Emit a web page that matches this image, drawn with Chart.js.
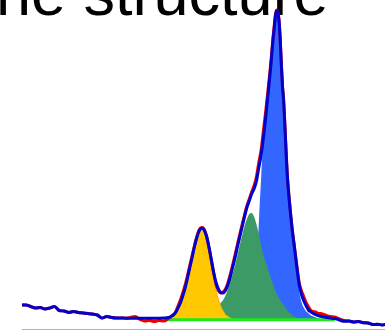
<!DOCTYPE html>
<html>
<head>
<meta charset="utf-8">
<script src="https://cdn.jsdelivr.net/npm/chart.js@4/dist/chart.umd.min.js"></script>
<style>
  html, body { margin: 0; padding: 0; background: #fff; }
  canvas { display: block; }
</style>
</head>
<body>
<canvas id="grafico" width="385" height="330"></canvas>
<script>
const titleText = 'ne structure';
const xTicks = [1, 2, 3, 4, 5, 6, 7];
const baseline = 90;

const energy = [-0.3, -0.2, -0.1, 0, 0.1, 0.2, 0.3, 0.4, 0.5, 0.6, 0.7, 0.8, 0.9, 1.0, 1.1, 1.2, 1.3, 1.4, 1.5, 1.6,
  1.7, 1.8, 1.9, 2.0, 2.1, 2.2, 2.3, 2.4, 2.5, 2.6, 2.7, 2.8,
  2.85, 2.9, 2.95, 3.0, 3.05, 3.1, 3.15, 3.2, 3.25, 3.3, 3.35, 3.4, 3.45, 3.5, 3.55, 3.6, 3.65, 3.7, 3.75, 3.8,
  3.85, 3.9, 3.95, 4.0, 4.05, 4.1, 4.15, 4.2, 4.25, 4.3, 4.35, 4.4, 4.45, 4.5, 4.55, 4.6, 4.65, 4.7, 4.75, 4.8,
  4.85, 4.9, 4.95, 4.975, 5.0, 5.025, 5.05, 5.075, 5.1, 5.125, 5.15, 5.175, 5.2, 5.225, 5.25,
  5.3, 5.35, 5.4, 5.45, 5.5, 5.55, 5.6, 5.65, 5.7, 5.75, 5.8, 5.85, 5.9, 5.95, 6.0,
  6.1, 6.2, 6.3, 6.4, 6.5, 6.6, 6.7, 6.8, 6.9, 7.0, 7.1, 7.2, 7.3, 7.4];

const fit = [240, 240, 225, 210, 215, 200, 210, 225, 185, 180, 165, 175, 165, 160, 155, 150, 140, 110, 125, 115,
  110, 110, 108, 107, 107, 107, 107, 107, 107, 108, 110, 115,
  125, 140, 165, 210, 260, 330, 410, 510, 615, 720, 830, 920, 985, 1010, 990, 930, 825, 700, 570, 465,
  400, 365, 360, 385, 440, 520, 615, 710, 820, 920, 1020, 1120, 1215, 1280, 1350, 1400, 1475, 1610, 1740, 1920,
  2130, 2365, 2610, 2750, 2890, 3000, 3120, 3185, 3170, 3090, 2910, 2650, 2420, 2270, 2030,
  1540, 1250, 1010, 820, 625, 445, 345, 280, 230, 188, 170, 155, 143, 134, 127,
  117, 110, 105, 90, 77, 80, 70, 75, 63, 60, 45, 47, 40, 50];

const measured = [240, 240, 225, 210, 215, 200, 210, 225, 185, 180, 165, 175, 165, 160, 155, 150, 140, 110, 125, 115,
  110, 110, 108, 115, 125, 95, 80, 85, 75, 85, 80, 105,
  120, 140, 170, 230, 290, 360, 440, 535, 640, 740, 840, 930, 995, 1015, 1000, 930, 820, 690, 560, 450,
  385, 360, 370, 400, 460, 545, 640, 740, 845, 945, 1045, 1140, 1230, 1300, 1370, 1430, 1520, 1660, 1790, 1990,
  2190, 2410, 2640, 2770, 2910, 3030, 3140, 3190, 3175, 3100, 2925, 2670, 2440, 2290, 2050,
  1560, 1260, 1020, 830, 640, 470, 380, 320, 260, 220, 185, 175, 170, 155, 155,
  140, 125, 120, 100, 85, 80, 70, 75, 63, 60, 45, 47, 40, 50];

const baselineX = [2.77, 6.3];
const baselineY = [92, 92];

const peak1X = [2.8, 2.85, 2.9, 2.95, 3.0, 3.05, 3.1, 3.15, 3.2, 3.25, 3.3, 3.35, 3.4, 3.45, 3.5, 3.55,
  3.6, 3.65, 3.7, 3.75, 3.8, 3.85, 3.9, 3.95, 4.0, 4.05, 4.1, 4.15, 4.2, 4.25, 4.3];
const peak1Y = [90, 95, 110, 140, 190, 245, 315, 395, 495, 600, 705, 815, 905, 970, 995, 970,
  900, 790, 660, 520, 390, 295, 230, 180, 145, 125, 110, 100, 95, 92, 90];

const peak2X = [3.45, 3.5, 3.55, 3.6, 3.65, 3.7, 3.75, 3.8, 3.85, 3.9, 3.95, 4.0, 4.05, 4.1, 4.15, 4.2,
  4.25, 4.3, 4.35, 4.4, 4.45, 4.5, 4.55, 4.6, 4.65, 4.7, 4.75, 4.8, 4.85, 4.9, 4.95, 5.0,
  5.05, 5.1, 5.15, 5.2, 5.25, 5.3, 5.35, 5.4, 5.45, 5.5, 5.55, 5.6, 5.7, 5.8];
const peak2Y = [93, 97, 105, 117, 130, 150, 175, 205, 230, 260, 290, 335, 395, 470, 550, 635,
  735, 840, 935, 1030, 1100, 1150, 1160, 1125, 1050, 955, 835, 740, 665, 590, 515, 450,
  380, 335, 290, 255, 225, 190, 160, 135, 122, 112, 105, 100, 93, 90];

const peak3X = [4.3, 4.35, 4.4, 4.45, 4.5, 4.55, 4.6, 4.65, 4.7, 4.75, 4.8, 4.85, 4.9, 4.95,
  4.975, 5.0, 5.025, 5.05, 5.075, 5.1, 5.125, 5.15, 5.175, 5.2, 5.225, 5.25,
  5.3, 5.35, 5.4, 5.45, 5.5, 5.55, 5.6, 5.65, 5.7, 5.75, 5.8, 5.85, 5.9, 5.95, 6.0, 6.1, 6.2];
const peak3Y = [90, 95, 100, 110, 125, 160, 240, 490, 1040, 1510, 1910, 2120, 2360, 2600,
  2740, 2880, 2990, 3110, 3170, 3160, 3080, 2900, 2650, 2410, 2250, 2010,
  1520, 1210, 970, 770, 570, 380, 270, 210, 175, 155, 135, 125, 115, 108, 100, 94, 90];

function pts(xs, ys) {
  return xs.map((x, i) => ({ x: x, y: ys[i] }));
}

const titlePlugin = {
  id: 'cutTitle',
  beforeDatasetsDraw(chart) {
    const ctx = chart.ctx;
    ctx.save();
    ctx.font = '63px "Liberation Sans", Arial, sans-serif';
    ctx.fillStyle = '#000';
    ctx.textBaseline = 'alphabetic';
    ctx.fillText(titleText, -4, 15);
    ctx.restore();
  }
};

const ctx = document.getElementById('grafico').getContext('2d');
const grafico = new Chart(ctx, {
  type: 'line',
  data: {
    datasets: [
      {
        label: 'Fit',
        data: pts(energy, fit),
        borderColor: '#0000cc',
        borderWidth: 3,
        pointRadius: 0,
        fill: false,
        cubicInterpolationMode: 'monotone'
      },
      {
        label: 'Data',
        data: pts(energy, measured),
        borderColor: '#ee0000',
        borderWidth: 3,
        pointRadius: 0,
        fill: false,
        cubicInterpolationMode: 'monotone'
      },
      {
        label: 'Background',
        data: pts(baselineX, baselineY),
        borderColor: '#1aeb1a',
        borderWidth: 3,
        pointRadius: 0,
        fill: false
      },
      {
        label: 'Peak 1',
        data: pts(peak1X, peak1Y),
        borderColor: '#ffa500',
        borderWidth: 1,
        backgroundColor: '#ffc800',
        pointRadius: 0,
        fill: { value: baseline },
        cubicInterpolationMode: 'monotone'
      },
      {
        label: 'Peak 2',
        data: pts(peak2X, peak2Y),
        borderColor: 'rgba(0,0,0,0)',
        borderWidth: 0,
        backgroundColor: '#3b9a66',
        pointRadius: 0,
        fill: { value: baseline },
        cubicInterpolationMode: 'monotone'
      },
      {
        label: 'Peak 3',
        data: pts(peak3X, peak3Y),
        borderColor: 'rgba(0,0,0,0)',
        borderWidth: 0,
        backgroundColor: '#3366ff',
        pointRadius: 0,
        fill: { value: baseline },
        cubicInterpolationMode: 'monotone'
      }
    ]
  },
  options: {
    responsive: false,
    animation: false,
    devicePixelRatio: 1,
    layout: { padding: { left: 22, top: 0, right: 0, bottom: 0 } },
    plugins: {
      legend: { display: false },
      tooltip: { enabled: false },
      title: { display: false }
    },
    scales: {
      x: {
        type: 'linear',
        min: -0.284,
        max: 7.358,
        afterBuildTicks: scale => {
          scale.ticks = xTicks.map(v => ({ value: v }));
        },
        ticks: { display: false },
        grid: { drawOnChartArea: false, drawTicks: true, tickLength: 1, color: '#888' },
        border: { display: true, color: '#b4b4b4', width: 1 }
      },
      y: {
        display: false,
        min: 0,
        max: 3290
      }
    }
  },
  plugins: [titlePlugin]
});
</script>
</body>
</html>
